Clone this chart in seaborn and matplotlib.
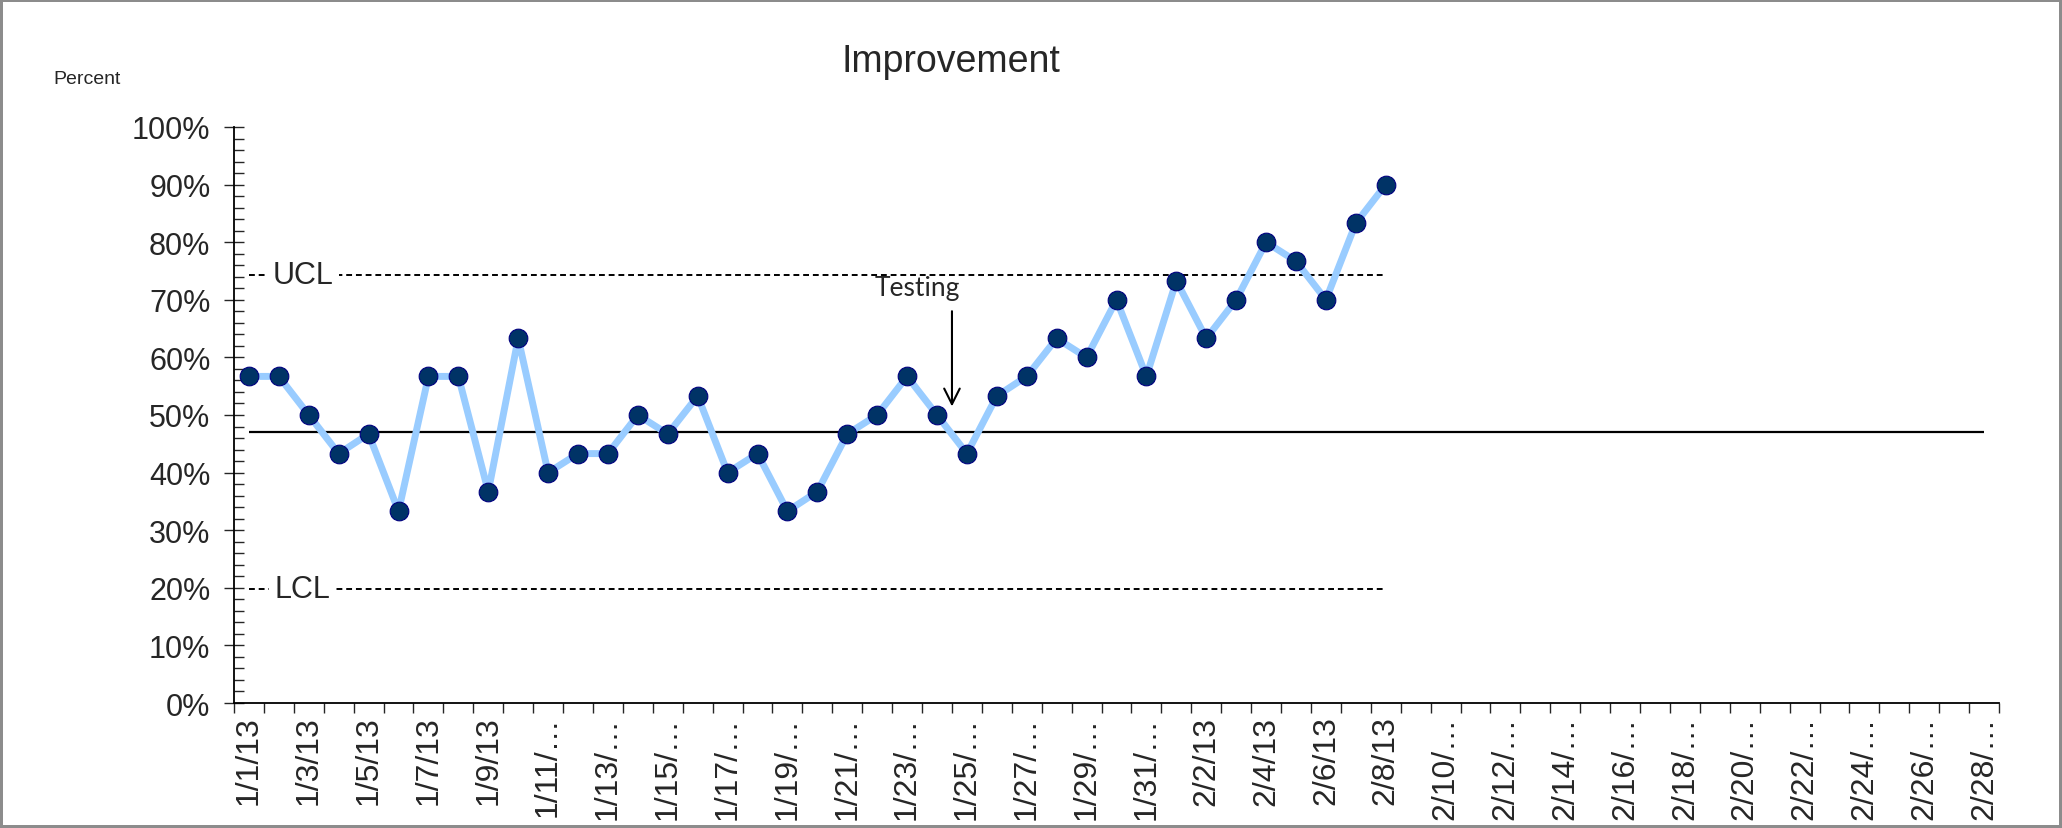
import numpy as np
import pandas as pd
import seaborn as sns
import matplotlib.pyplot as plt
from matplotlib.ticker import FixedLocator, MultipleLocator, PercentFormatter

# data
dates = pd.date_range("2013-01-01", "2013-02-28", freq="D")
pct = [56.7, 56.7, 50.0, 43.3, 46.7, 33.3, 56.7, 56.7, 36.7, 63.3,
       40.0, 43.3, 43.3, 50.0, 46.7, 53.3, 40.0, 43.3, 33.3, 36.7,
       46.7, 50.0, 56.7, 50.0, 43.3, 53.3, 56.7, 63.3, 60.0, 70.0,
       56.7, 73.3, 63.3, 70.0, 80.0, 76.7, 70.0, 83.3, 90.0]
center_line = 47.0
ucl = 74.3
lcl = 19.8

# tick labels like Excel: long ones get cut off
labels = []
for d in dates:
    s = f"{d.month}/{d.day}/{d.strftime('%y')}"
    if len(s) > 6:
        s = s[:5] + "\u2026"
    labels.append(s)

day = np.arange(len(dates))
df = pd.DataFrame({"day": day[:len(pct)], "pct": pct})

sns.set_style("white")
plt.rcParams["font.family"] = ["Liberation Sans", "DejaVu Sans"]

fig = plt.figure(figsize=(20.62, 8.29), dpi=100)
fig.patch.set_edgecolor("#8c8c8c")
fig.patch.set_linewidth(3)
ax = fig.add_axes([234 / 2062, 1 - 704 / 829, (1999 - 234) / 2062, (704 - 128) / 829])

# centre line and control limits
ax.hlines(center_line, day[0], day[-1], color="black", lw=1.6, zorder=1)
ax.hlines([ucl, lcl], day[0], df["day"].iloc[-1], color="black", lw=1.4,
          linestyles=(0, (3, 2)), zorder=1)
for val, name in [(ucl, "UCL"), (lcl, "LCL")]:
    ax.text(1.8, val, name, fontsize=22, ha="center", va="center", zorder=2,
            bbox=dict(facecolor="white", edgecolor="none", pad=4))

sns.lineplot(data=df, x="day", y="pct", color="#99ccff", lw=5, ax=ax, zorder=3)
sns.scatterplot(data=df, x="day", y="pct", color="#003366", edgecolor="#000080",
                linewidth=0.8, s=180, ax=ax, zorder=4)

ax.annotate("", xy=(23.5, 51), xytext=(23.5, 68.5),
            arrowprops=dict(arrowstyle="->", lw=1.5, color="black", mutation_scale=28))
ax.text(22.35, 72.2, "Testing", fontsize=19, family=["Lato", "DejaVu Sans"],
        ha="center", va="center")

ax.set_xlim(-0.5, len(dates) - 0.5)
ax.set_ylim(0, 100)
ax.set_xlabel("")
ax.set_ylabel("")

ax.xaxis.set_major_locator(FixedLocator(day[::2]))
ax.set_xticklabels(labels[::2], rotation=90, fontsize=23)
ax.xaxis.set_minor_locator(FixedLocator(np.arange(-0.5, len(dates), 1)))
ax.tick_params(axis="x", which="major", length=0, pad=9)
ax.tick_params(axis="x", which="minor", length=7, width=1, direction="out", bottom=True)

ax.yaxis.set_major_locator(MultipleLocator(10))
ax.yaxis.set_minor_locator(MultipleLocator(2))
ax.yaxis.set_major_formatter(PercentFormatter(decimals=0))
ax.tick_params(axis="y", which="major", length=14, width=1, direction="inout", labelsize=22, pad=10, left=True)
ax.tick_params(axis="y", which="minor", length=7, width=1, direction="in", left=True)

for side in ["top", "right"]:
    ax.spines[side].set_visible(False)
for side in ["left", "bottom"]:
    ax.spines[side].set_color("black")
    ax.spines[side].set_linewidth(1.3)

fig.text(951 / 2062, 1 - 62 / 829, "Improvement", fontsize=27, ha="center", va="center")
fig.text(53 / 2062, 1 - 79 / 829, "Percent", fontsize=14, ha="left", va="center")

fig.savefig("out.png", dpi=100, edgecolor=fig.get_edgecolor())
